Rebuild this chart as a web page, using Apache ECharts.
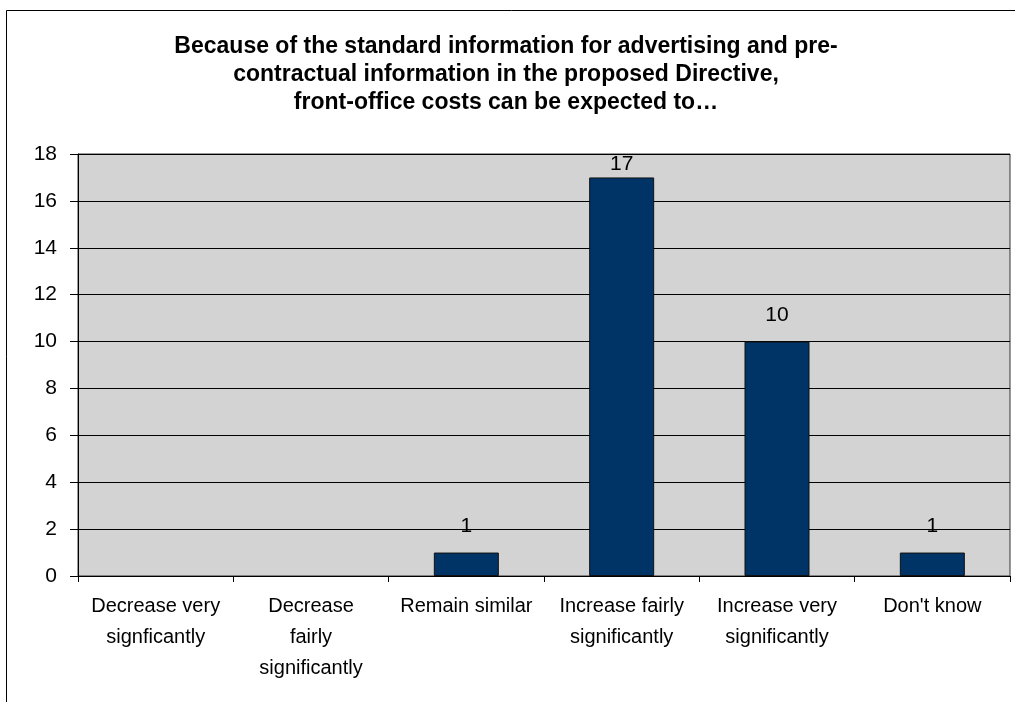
<!doctype html>
<html>
<head>
<meta charset="UTF-8">
<title>Front-office costs</title>
<script src="https://cdn.jsdelivr.net/npm/echarts@6/dist/echarts.min.js"></script>
<style>
  html, body { margin: 0; padding: 0; background: #fff; }
</style>
</head>
<body>
<div id="main" style="width:1015px;height:702px;"></div>
<script>
var categories = [
    'Decrease very\nsignficantly',
    'Decrease\nfairly\nsignificantly',
    'Remain similar',
    'Increase fairly\nsignificantly',
    'Increase very\nsignificantly',
    "Don't know"
];
var counts = [0, 0, 1, 17, 10, 1];
var yTicks = { min: 0, max: 18, step: 2 };

var font = '"Liberation Sans", Arial, sans-serif';

// zero values get no label and no outline; the 17 label is squeezed under the plot top
var barData = counts.map(function (v) {
    var item = { value: v };
    if (v === 0) {
        item.label = { show: false };
        item.itemStyle = { borderWidth: 0 };
    }
    if (v === 17) item.label = { distance: 3 };
    return item;
});

var myChart = echarts.init(document.getElementById('main'));
myChart.setOption({
    animation: false,
    backgroundColor: '#fff',
    title: {
        text: 'Because of the standard information for advertising and pre-\ncontractual information in the proposed Directive,\nfront-office costs can be expected to\u2026',
        left: 501,
        top: 28,
        textAlign: 'center',
        textStyle: { fontFamily: font, fontSize: 23, fontWeight: 'bold', color: '#000', lineHeight: 28 }
    },
    graphic: [{
        type: 'rect',
        shape: { x: 6.5, y: 10.5, width: 1200, height: 900 },
        style: { fill: null, stroke: '#000', lineWidth: 1 },
        silent: true
    }],
    grid: {
        left: 78, top: 154, right: 5, bottom: 126,
        show: true,
        backgroundColor: '#D3D3D3',
        borderColor: '#333',
        borderWidth: 1
    },
    xAxis: {
        type: 'category',
        data: categories,
        axisLine: { lineStyle: { color: '#000', width: 1 } },
        axisTick: { show: true, length: 6, lineStyle: { color: '#000' } },
        axisLabel: { fontFamily: font, fontSize: 20, color: '#000', margin: 15, lineHeight: 31, interval: 0 }
    },
    yAxis: {
        type: 'value',
        min: yTicks.min,
        max: yTicks.max,
        interval: yTicks.step,
        axisLine: { show: true, lineStyle: { color: '#000', width: 1 } },
        axisTick: { show: true, length: 8, lineStyle: { color: '#000' } },
        axisLabel: { fontFamily: font, fontSize: 21, color: '#000', margin: 21 },
        splitLine: { show: true, lineStyle: { color: '#000', width: 1 } }
    },
    series: [{
        type: 'bar',
        data: barData,
        barWidth: 65,
        itemStyle: { color: '#003366', borderColor: '#111', borderWidth: 1 },
        label: {
            show: true,
            position: 'top',
            distance: 16,
            fontFamily: font,
            fontSize: 21,
            color: '#000'
        }
    }]
});
</script>
</body>
</html>
